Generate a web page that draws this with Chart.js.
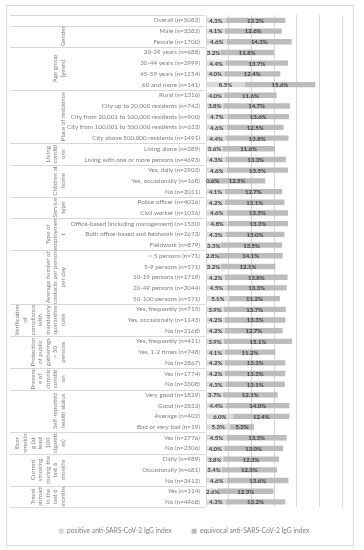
<!DOCTYPE html>
<html>
<head>
<meta charset="utf-8">
<script src="https://cdn.jsdelivr.net/npm/chart.js@4.4.1/dist/chart.umd.min.js"></script>
<style>
  html, body { margin: 0; padding: 0; background: #fff; }
  #wrap { width: 364px; height: 550px; }
</style>
</head>
<body>
<div id="wrap"><canvas id="chart"></canvas></div>
<script>
const categories = [
  "Overall (n=5082)",
  "Male (n=3382)", "Female (n=1700)",
  "20-29 years (n=688)", "30-44 years (n=2999)", "45-59 years (n=1254)", "60 and more (n=141)",
  "Rural (n=1316)", "City up to 20,000 residents (n=742)", "City from 20,001 to 100,000 residents (n=900)",
  "City from 100,001 to 500,000 residents (n=633)", "City above 500,000 residents (n=1491)",
  "Living alone (n=389)", "Living with one or more persons (n=4693)",
  "Yes, daily (n=2903)", "Yes, occasionally (n=168)", "No (n=2011)",
  "Police officer (n=4026)", "Civil worker (n=1056)",
  "Office-based (including management) (n=1530)", "Both office-based and fieldwork (n=2673)", "Fieldwork (n=879)",
  "< 5 persons (n=71)", "5-9 persons (n=571)", "10-19 persons (n=1719)", "20-49 persons (n=2044)", "50-100 persons (n=571)",
  "Yes, frequently (n=715)", "Yes, occasionally (n=1143)", "No (n=2168)",
  "Yes, frequently (n=411)", "Yes, 1-2 times (n=748)", "No (n=2867)",
  "Yes (n=1774)", "No (n=3308)",
  "Very good (n=1829)", "Good (n=2832)", "Average (n=402)", "Bad or very bad (n=19)",
  "Yes (n=2776)", "No (n=2306)",
  "Daily (n=989)", "Occasionally (n=681)", "No (n=3412)",
  "Yes (n=114)", "No (n=4968)"
];

const positiveValues = [
  4.3,
  4.1, 4.6,
  3.2, 4.4, 4.0, 8.5,
  4.0, 3.8, 4.7, 4.6, 4.4,
  3.6, 4.3,
  4.6, 0.6, 4.1,
  4.2, 4.6,
  4.8, 4.3, 3.3,
  2.8, 3.2, 4.2, 4.5, 5.1,
  3.9, 4.2, 4.2,
  3.9, 4.1, 4.2,
  4.2, 4.3,
  3.7, 4.4, 6.0, 5.3,
  4.5, 4.0,
  3.8, 3.4, 4.6,
  2.6, 4.3
];

const equivocalValues = [
  13.2,
  12.6, 14.3,
  11.8, 13.7, 12.4, 15.6,
  11.6, 14.7, 13.6, 12.5, 13.8,
  11.6, 13.3,
  13.5, 12.5, 12.7,
  13.1, 13.5,
  13.3, 13.0, 13.5,
  14.1, 12.1, 13.8, 13.3, 11.2,
  13.7, 13.3, 12.7,
  15.1, 11.2, 13.3,
  13.3, 13.1,
  12.1, 14.0, 12.4, 5.3,
  13.3, 13.0,
  12.3, 12.3, 13.6,
  12.3, 13.2
];

// group label column: wrapped lines of each group and how many rows it spans
const groupNames = [
  [],
  ["Gender"],
  ["Age group", "[years]"],
  ["Place of residence"],
  ["Living", "conditi", "ons"],
  ["Children at", "home"],
  ["Service", "type"],
  ["Type of", "employmen", "t"],
  ["Average number of", "contacts per person", "per day"],
  ["Verification", "of", "compliance", "with", "mandatory", "quarantine", "rules"],
  ["Protection", "of public", "gatherings", "> 50", "persons"],
  ["Presenc", "e of", "chronic", "conditi", "on"],
  ["Self-reported", "health status"],
  ["Ever", "smokin", "g (at", "least", "100", "cigarett", "es)"],
  ["Current", "smoking", "during the", "last 6", "months"],
  ["Travel", "abroad", "in the", "last 6", "months"]
];
const groupSizes = [1, 2, 4, 5, 2, 3, 2, 3, 5, 3, 3, 2, 4, 2, 3, 2];

const FONT = "Lato, 'Open Sans', sans-serif";
const GREY_TEXT = "#7f7f7f";
const LINE = "#d9d9d9";

const tablePlugin = {
  id: "tablePlugin",
  afterLayout(chart) {
    // nudge legend a bit to the right, like the original
    if (chart.legend) {
      chart.legend.left += 10;
      chart.legend.right += 10;
    }
  },
  afterDraw(chart) {
    const ctx = chart.ctx;
    const y = chart.scales.y;
    const area = chart.chartArea;
    const rowEdge = (i) => {
      if (i <= 0) return area.top;
      if (i >= categories.length) return area.bottom;
      return (y.getPixelForValue(i - 1) + y.getPixelForValue(i)) / 2;
    };
    ctx.save();
    // outer frame
    ctx.strokeStyle = LINE;
    ctx.lineWidth = 1;
    ctx.strokeRect(6.5, 5.5, 347, 540);

    // group separators
    let start = 0;
    const edges = [0];
    groupSizes.forEach((n) => { start += n; edges.push(start); });
    edges.forEach((e) => {
      const py = Math.round(rowEdge(e)) + 0.5;
      ctx.beginPath();
      ctx.moveTo(10, py);
      ctx.lineTo(area.left - 1, py);
      ctx.stroke();
    });

    // rotated group labels
    ctx.fillStyle = GREY_TEXT;
    ctx.font = "6.2px " + FONT;
    ctx.textAlign = "center";
    ctx.textBaseline = "middle";
    let row = 0;
    groupNames.forEach((lines, g) => {
      const top = rowEdge(row);
      const bottom = rowEdge(row + groupSizes[g]);
      const cy = (top + bottom) / 2;
      lines.forEach((txt, i) => {
        const cx = 63 - (lines.length - 1 - i) * 7.6;
        ctx.save();
        ctx.translate(cx, cy);
        ctx.rotate(-Math.PI / 2);
        ctx.fillText(txt, 0, 0);
        ctx.restore();
      });
      row += groupSizes[g];
    });
    ctx.restore();
  }
};

const valueLabels = {
  id: "valueLabels",
  afterDatasetsDraw(chart) {
    const ctx = chart.ctx;
    const area = chart.chartArea;
    ctx.save();
    ctx.font = "bold 6px " + FONT;
    ctx.fillStyle = "#404040";
    ctx.textAlign = "center";
    ctx.textBaseline = "middle";
    chart.data.datasets.forEach((ds, di) => {
      const meta = chart.getDatasetMeta(di);
      meta.data.forEach((bar, i) => {
        const txt = ds.data[i].toFixed(1) + "%";
        const w = ctx.measureText(txt).width;
        let cx = (bar.x + bar.base) / 2;
        if (cx - w / 2 < area.left) cx = area.left + w / 2;
        ctx.fillText(txt, cx, bar.y + 0.5);
      });
    });
    ctx.restore();
  }
};

new Chart(document.getElementById("chart"), {
  type: "bar",
  data: {
    labels: categories,
    datasets: [
      {
        label: "positive anti-SARS-CoV-2 IgG index",
        data: positiveValues,
        backgroundColor: "#d9d9d9",
        barPercentage: 0.5,
        categoryPercentage: 1
      },
      {
        label: "equivocal anti-SARS-CoV-2 IgG index",
        data: equivocalValues,
        backgroundColor: "#bcbcbc",
        barPercentage: 0.5,
        categoryPercentage: 1
      }
    ]
  },
  options: {
    indexAxis: "y",
    responsive: true,
    maintainAspectRatio: false,
    animation: false,
    layout: { padding: { top: 15, left: 6, right: 22, bottom: 5.5 } },
    scales: {
      x: {
        stacked: true,
        min: 0,
        max: 30,
        ticks: {
          stepSize: 5,
          padding: 8.5,
          color: GREY_TEXT,
          font: { size: 6.8, family: FONT },
          callback: (v) => v + "%"
        },
        grid: { color: LINE, drawTicks: false },
        border: { display: false },
        afterFit: (scale) => { scale.height = 0.5; }
      },
      y: {
        stacked: true,
        ticks: {
          autoSkip: false,
          padding: 6,
          color: GREY_TEXT,
          font: { size: 6.3, family: FONT }
        },
        grid: { display: false, drawTicks: false },
        border: { display: false },
        afterFit: (scale) => { scale.width = 200; }
      }
    },
    plugins: {
      legend: {
        position: "bottom",
        labels: {
          boxWidth: 5,
          boxHeight: 5,
          padding: 20,
          color: GREY_TEXT,
          font: { size: 6.7, family: FONT }
        }
      },
      tooltip: { enabled: false }
    }
  },
  plugins: [tablePlugin, valueLabels]
});
</script>
</body>
</html>
